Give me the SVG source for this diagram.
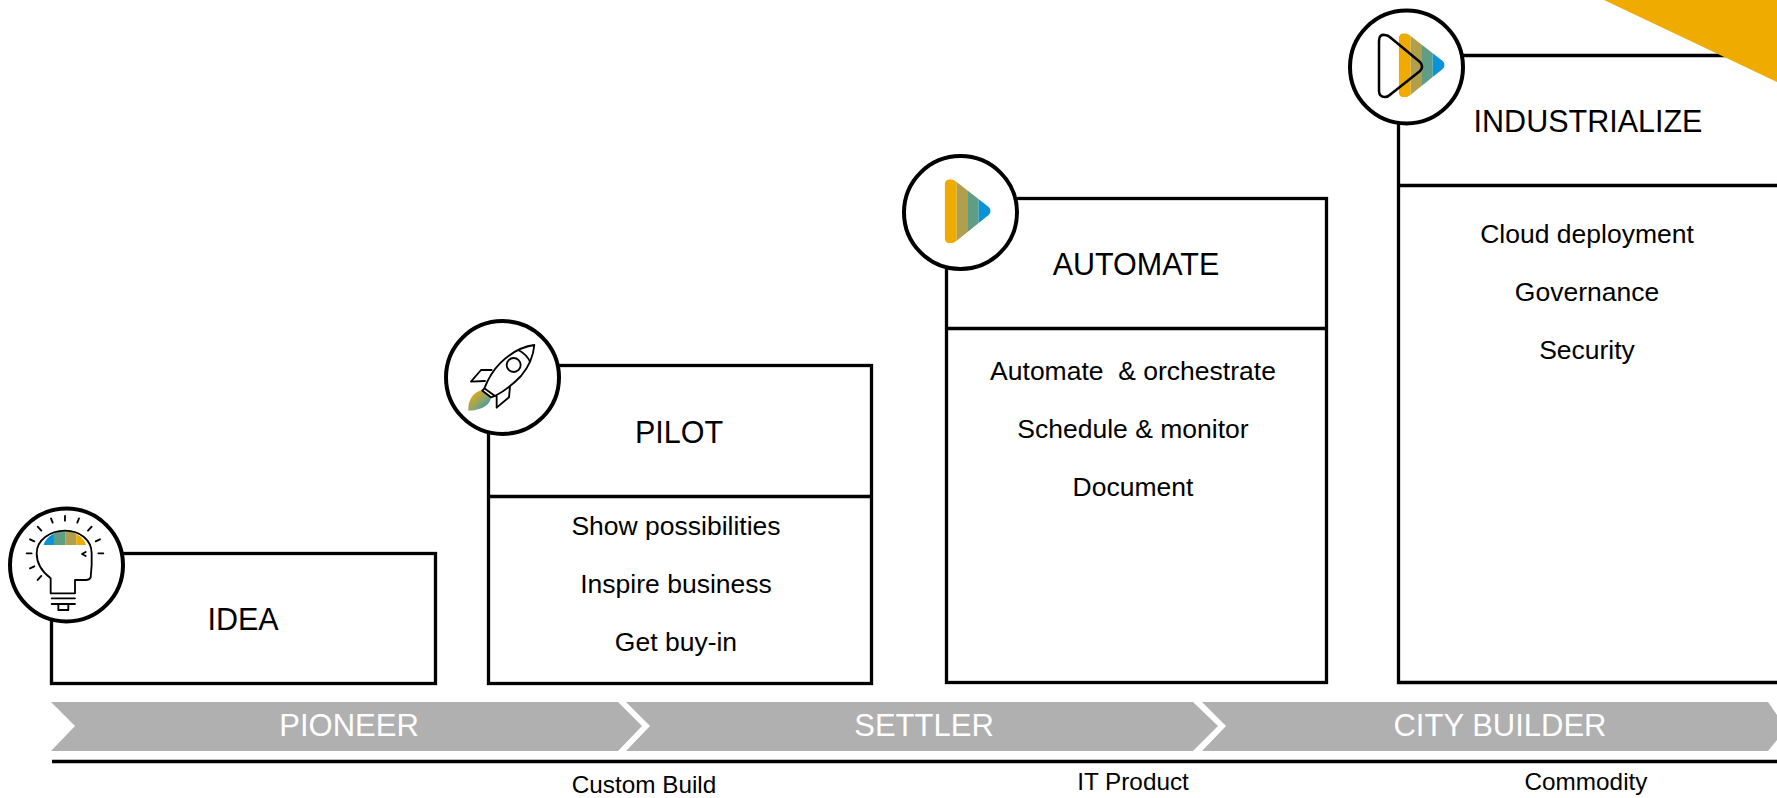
<svg xmlns="http://www.w3.org/2000/svg" width="1777" height="798" viewBox="0 0 1777 798">
<style>
text{font-family:"Liberation Sans",Arial,sans-serif;text-anchor:middle;fill:#000}
.t{font-size:30.500px}.l{font-size:26.500px;white-space:pre}.s{font-size:24.300px}.c{font-size:31px;fill:#fff}
.b{fill:#fff;stroke:#000;stroke-width:3.300}
.r{fill:#fff;stroke:#000;stroke-width:4}
.i{fill:none;stroke:#000;stroke-width:5.500;stroke-linejoin:round;stroke-linecap:round}
.ch{fill:#b0b0b0}
</style>
<defs>
<linearGradient id="flame" x1="0" y1="0" x2="1" y2="1"><stop offset="0.1" stop-color="#f0ab00"/><stop offset="0.55" stop-color="#8fa567"/><stop offset="1" stop-color="#0a93d8"/></linearGradient>
<clipPath id="brain"><path d="M130 165C150 110 240 110 258 165Z"/></clipPath>
<clipPath id="play"><path d="M164 120Q164 103 182 103Q190 103 200 111L296 186Q308 198 296 210L200 287Q190 295 182 295Q164 295 164 278Z"/></clipPath>
<g id="stripes"><rect x="160" y="100" width="40" height="200" fill="#f0ab00"/><rect x="200" y="100" width="34" height="200" fill="#b0a04e"/><rect x="234" y="100" width="32" height="200" fill="#5f9e84"/><rect x="266" y="100" width="44" height="200" fill="#0a93d8"/></g>
</defs>
<g id="phases">
<polygon class="ch" points="51,702 618,702 642,726 618,751 51,751 75,726"/>
<polygon class="ch" points="626,702 1193,702 1218,726 1193,751 626,751 650,726"/>
<polygon class="ch" points="1202,702 1768,702 1777,715 1777,740 1768,751 1202,751 1226,726"/>
<text class="c" x="349" y="736">PIONEER</text>
<text class="c" x="924" y="736">SETTLER</text>
<text class="c" x="1500" y="736">CITY BUILDER</text>
</g>
<g id="connectors"><line x1="52" y1="761.500" x2="1777" y2="761.500" stroke="#000" stroke-width="3.300"/></g>
<text class="s" x="644" y="793">Custom Build</text>
<text class="s" x="1133" y="790">IT Product</text>
<text class="s" x="1586" y="790">Commodity</text>
<g id="idea">
<rect class="b" x="51.500" y="553.500" width="384" height="130"/>
<text class="t" x="243" y="630">IDEA</text>
<circle class="r" cx="66.500" cy="565" r="56.500"/>
<g transform="translate(0,490) scale(.3333)">
<g clip-path="url(#brain)"><rect x="125" y="110" width="44" height="60" fill="#0a93d8"/><rect x="161" y="110" width="36" height="60" fill="#5f9e84"/><rect x="197" y="110" width="32" height="60" fill="#b0a04e"/><rect x="229" y="110" width="34" height="60" fill="#f0ab00"/></g>
<path class="i" d="M152 310V265C125 245 110 220 110 190C110 150 150 122 195 122C240 122 275 150 275 190V225L272 262Q268 270 258 270H225V310Z"/>
<path class="i" d="M257 186L246 192L257 198M155 325H225M155 342H225M175 345V360H205V345M195 78V92M153 85L158 98M237 85L232 98M113 110L124 122M275 110L264 122M90 148L103 154M300 148L287 154M80 190H95M295 190H310M90 235L103 229M113 270L124 258"/>
</g>
</g>
<g id="pilot">
<rect class="b" x="488.500" y="365.500" width="383" height="318"/>
<line x1="488" y1="496.500" x2="872" y2="496.500" stroke="#000" stroke-width="3.300"/>
<text class="t" x="679" y="443">PILOT</text>
<text class="l" x="676" y="535">Show possibilities</text>
<text class="l" x="676" y="593">Inspire business</text>
<text class="l" x="676" y="651">Get buy-in</text>
<circle class="r" cx="502.500" cy="377.500" r="56.500"/>
<g transform="translate(435,310) scale(.3333)">
<path d="M142 240C115 245 98 270 100 302C130 302 165 290 168 262Z" fill="url(#flame)"/>
<path class="i" d="M298 105C260 110 225 130 195 160C175 180 158 210 148 235L180 258C205 245 235 222 258 198C280 172 295 140 298 105ZM250 120C265 128 278 140 285 155M170 180H138L108 215L150 213M225 230L222 262L185 293V255M148 235L142 242L168 262L180 258"/>
<circle class="i" cx="236" cy="165" r="21"/>
</g>
</g>
<g id="automate">
<rect class="b" x="946.500" y="198.500" width="380" height="484"/>
<line x1="946" y1="328.500" x2="1327" y2="328.500" stroke="#000" stroke-width="3.300"/>
<text class="t" x="1136" y="275">AUTOMATE</text>
<text class="l" x="1133" y="380">Automate  &amp; orchestrate</text>
<text class="l" x="1133" y="438">Schedule &amp; monitor</text>
<text class="l" x="1133" y="496">Document</text>
<circle class="r" cx="960.500" cy="212.500" r="56.500"/>
<g transform="translate(890,145) scale(.3333)"><g clip-path="url(#play)"><use href="#stripes"/></g></g>
</g>
<g id="industrialize">
<path class="b" d="M1778 55.500H1398.500V682.500H1778"/>
<line x1="1398" y1="185.500" x2="1777" y2="185.500" stroke="#000" stroke-width="3.300"/>
<text class="t" x="1588" y="132">INDUSTRIALIZE</text>
<text class="l" x="1587" y="243">Cloud deployment</text>
<text class="l" x="1587" y="301">Governance</text>
<text class="l" x="1587" y="359">Security</text>
<circle class="r" cx="1406.500" cy="67" r="56.500"/>
<g transform="translate(1344,-1) scale(.3333)"><g clip-path="url(#play)"><use href="#stripes"/></g></g>
<path d="M1379 41Q1379 34 1385 35Q1388 35 1391 38L1420 62Q1424 67 1420 71L1391 94Q1388 97 1385 97Q1379 97 1379 91Z" fill="none" stroke="#000" stroke-width="2.500" stroke-linejoin="round"/>
</g>
<polygon points="1604,0 1777,82 1777,0" fill="#f0ab00"/>
</svg>
